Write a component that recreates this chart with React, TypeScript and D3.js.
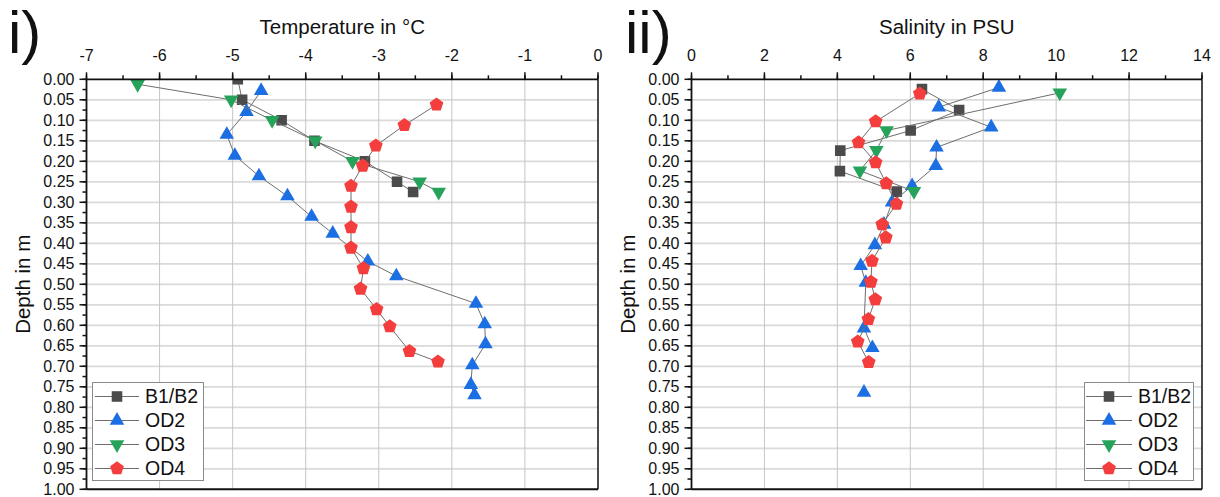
import React from "react";
import * as d3 from "d3";

// ---- data: [value, depth in m] pairs per station ----
const seriesNames = ["B1/B2", "OD2", "OD3", "OD4"];

const tempB1B2: [number, number][] = [
  [-4.93, 0.0], [-4.87, 0.05], [-4.33, 0.1], [-3.88, 0.15], [-3.19, 0.2], [-2.75, 0.25], [-2.53, 0.275],
];
const tempOD2: [number, number][] = [
  [-4.61, 0.028], [-4.81, 0.079], [-5.08, 0.135], [-4.97, 0.186], [-4.64, 0.236], [-4.25, 0.285],
  [-3.92, 0.335], [-3.63, 0.376], [-3.15, 0.444], [-2.76, 0.48], [-1.67, 0.547], [-1.55, 0.597],
  [-1.54, 0.646], [-1.72, 0.697], [-1.74, 0.745], [-1.69, 0.77],
];
const tempOD3: [number, number][] = [
  [-6.3, 0.012], [-5.02, 0.05], [-4.46, 0.1], [-3.87, 0.15], [-3.36, 0.2], [-2.44, 0.25], [-2.18, 0.275],
];
const tempOD4: [number, number][] = [
  [-2.21, 0.062], [-2.65, 0.112], [-3.04, 0.162], [-3.22, 0.211], [-3.38, 0.26], [-3.38, 0.311],
  [-3.38, 0.361], [-3.38, 0.411], [-3.21, 0.461], [-3.25, 0.511], [-3.03, 0.561], [-2.85, 0.603],
  [-2.58, 0.663], [-2.19, 0.689],
];

const salB1B2: [number, number][] = [
  [6.32, 0.024], [7.34, 0.075], [6.01, 0.125], [4.08, 0.174], [4.07, 0.224], [5.63, 0.274],
];
// null marks a gap in the profile (no samples between 0.66 m and 0.76 m)
const salOD2: ([number, number] | null)[] = [
  [8.43, 0.02], [6.78, 0.068], [8.22, 0.117], [6.72, 0.166], [6.7, 0.211], [6.05, 0.26], [5.5, 0.3],
  [5.28, 0.354], [5.03, 0.404], [4.64, 0.455], [4.78, 0.496], [4.73, 0.607], [4.96, 0.655], null,
  [4.73, 0.764],
];
const salOD3: [number, number][] = [
  [10.1, 0.033], [5.35, 0.125], [5.07, 0.173], [4.62, 0.223], [6.1, 0.273],
];
const salOD4: [number, number][] = [
  [6.26, 0.035], [5.05, 0.103], [4.58, 0.154], [5.05, 0.203], [5.34, 0.254], [5.62, 0.304],
  [5.23, 0.354], [5.33, 0.386], [4.95, 0.443], [4.92, 0.494], [5.04, 0.537], [4.85, 0.585],
  [4.56, 0.64], [4.86, 0.69],
];

const tempTicks = [-7, -6, -5, -4, -3, -2, -1, 0];
const salTicks = [0, 2, 4, 6, 8, 10, 12, 14];
const depthTicks = d3.range(0, 21).map((i) => i * 0.05);

// ---- styling ----
const FONT = "'Liberation Sans', Arial, Helvetica, sans-serif";
const colors = ["#4b4b4b", "#1c6fe3", "#26a35b", "#f43d3d"];
const LINE_COLOR = "#6e6e6e";
const TOP = 79.3;
const BOTTOM = 489.3;

type Pt = [number, number] | null;

function Marker({ kind, x, y, color }: { kind: number; x: number; y: number; color: string }) {
  let d = "";
  if (kind === 0) {
    d = d3.symbol(d3.symbolSquare, 112)() as string;
  } else if (kind === 1 || kind === 2) {
    d = d3.symbol(d3.symbolTriangle, 92)() as string;
  } else {
    const r = 7.2;
    const pts = d3.range(5).map((k) => {
      const a = ((-90 + k * 72) * Math.PI) / 180;
      return [r * Math.cos(a), r * Math.sin(a)];
    });
    d = "M" + pts.map((p) => p.join(",")).join("L") + "Z";
  }
  const rot = kind === 2 ? " rotate(180)" : "";
  return <path d={d} transform={`translate(${x},${y})${rot}`} fill={color} />;
}

interface PanelProps {
  id: string;
  x0: number;
  x1: number;
  domain: [number, number];
  ticks: number[];
  minorStep: number;
  title: string;
  tag: string;
  tagX: number;
  series: Pt[][];
  legendX: number;
  legendW: number;
  legendLine: [number, number];
}

function Panel(p: PanelProps) {
  const x = d3.scaleLinear().domain(p.domain).range([p.x0, p.x1]);
  const y = d3.scaleLinear().domain([0, 1]).range([TOP, BOTTOM]);
  const minorX = d3.range(p.domain[0], p.domain[1] + 1e-9, p.minorStep);
  const minorY = d3.range(0, 41).map((i) => i * 0.025);
  const line = d3
    .line<Pt>()
    .defined((d) => d !== null)
    .x((d) => x((d as [number, number])[0]))
    .y((d) => y((d as [number, number])[1]));
  const mid = (p.x0 + p.x1) / 2;
  const ys = [396.5, 420.5, 444.5, 468.5];

  return (
    <g>
      <defs>
        <clipPath id={`clip-${p.id}`}>
          <rect x={p.x0} y={TOP} width={p.x1 - p.x0} height={BOTTOM - TOP} />
        </clipPath>
      </defs>
      {/* grid */}
      {depthTicks.slice(1, -1).map((t) => (
        <line key={`h${t}`} x1={p.x0} x2={p.x1} y1={y(t)} y2={y(t)} stroke="#dadada" strokeWidth={1.8} />
      ))}
      {p.ticks.slice(1, -1).map((t) => (
        <line key={`v${t}`} x1={x(t)} x2={x(t)} y1={TOP} y2={BOTTOM} stroke="#c6c6c6" strokeWidth={1} />
      ))}
      {/* frame */}
      <line x1={p.x1} x2={p.x1} y1={TOP} y2={BOTTOM} stroke="#111" strokeWidth={1.5} />
      <line x1={p.x0} x2={p.x1} y1={BOTTOM} y2={BOTTOM} stroke="#111" strokeWidth={2} />
      {/* series */}
      <g clipPath={`url(#clip-${p.id})`}>
        {p.series.map((s, i) => (
          <g key={i}>
            <path d={line(s) as string} fill="none" stroke={LINE_COLOR} strokeWidth={1} />
            {s.filter((d) => d !== null).map((d, j) => (
              <Marker key={j} kind={i} x={x((d as [number, number])[0])} y={y((d as [number, number])[1])} color={colors[i]} />
            ))}
          </g>
        ))}
      </g>
      {/* top axis */}
      <line x1={p.x0} x2={p.x1} y1={TOP} y2={TOP} stroke="#111" strokeWidth={1.8} />
      {minorX.map((t) => (
        <line key={`mx${t}`} x1={x(t)} x2={x(t)} y1={TOP} y2={TOP - 4} stroke="#111" strokeWidth={1.5} />
      ))}
      {p.ticks.map((t) => (
        <g key={`tx${t}`}>
          <line x1={x(t)} x2={x(t)} y1={TOP} y2={TOP - 7} stroke="#111" strokeWidth={1.5} />
          <text x={x(t)} y={61} textAnchor="middle" fontSize={16} fontFamily={FONT} fill="#111">
            {t}
          </text>
        </g>
      ))}
      <text x={mid} y={34} textAnchor="middle" fontSize={20.5} fontFamily={FONT} fill="#111">
        {p.title}
      </text>
      {/* left axis */}
      <line x1={p.x0} x2={p.x0} y1={TOP} y2={BOTTOM} stroke="#111" strokeWidth={1.8} />
      {minorY.map((t) => (
        <line key={`my${t}`} x1={p.x0} x2={p.x0 - 4} y1={y(t)} y2={y(t)} stroke="#111" strokeWidth={1.5} />
      ))}
      {depthTicks.map((t) => (
        <g key={`ty${t}`}>
          <line x1={p.x0} x2={p.x0 - 7} y1={y(t)} y2={y(t)} stroke="#111" strokeWidth={1.5} />
          <text x={p.x0 - 12} y={y(t) + 5.6} textAnchor="end" fontSize={16} fontFamily={FONT} fill="#111">
            {t.toFixed(2)}
          </text>
        </g>
      ))}
      <text
        transform={`translate(${p.x0 - 57},${(TOP + BOTTOM) / 2}) rotate(-90)`}
        textAnchor="middle"
        fontSize={20.5}
        fontFamily={FONT}
        fill="#111"
      >
        Depth in m
      </text>
      {/* panel tag */}
      <text x={p.tagX} y={53} fontSize={60} fontFamily={FONT} fill="#111">
        {p.tag}
      </text>
      {/* legend */}
      <rect x={p.legendX} y={382.5} width={p.legendW} height={98} fill="#fff" stroke="#8a8a8a" strokeWidth={1} />
      {seriesNames.map((n, i) => (
        <g key={n}>
          <line x1={p.legendLine[0]} x2={p.legendLine[1]} y1={ys[i]} y2={ys[i]} stroke={LINE_COLOR} strokeWidth={1} />
          <Marker kind={i} x={(p.legendLine[0] + p.legendLine[1]) / 2} y={ys[i]} color={colors[i]} />
          <text x={p.legendLine[1] + 6} y={ys[i] + 6.8} fontSize={19.5} fontFamily={FONT} fill="#111">
            {n}
          </text>
        </g>
      ))}
    </g>
  );
}

export default function App() {
  return (
    <svg
      width={1220}
      height={497}
      style={{ position: "absolute", left: 0, top: 0, display: "block", background: "#fff" }}
    >
      <rect width={1220} height={497} fill="#fff" />
      <Panel
        id="temp"
        x0={86.5}
        x1={598}
        domain={[-7, 0]}
        ticks={tempTicks}
        minorStep={0.5}
        title="Temperature in °C"
        tag="i)"
        tagX={8}
        series={[tempB1B2, tempOD2, tempOD3, tempOD4]}
        legendX={92.5}
        legendW={111}
        legendLine={[95, 139]}
      />
      <Panel
        id="sal"
        x0={691.5}
        x1={1202}
        domain={[0, 14]}
        ticks={salTicks}
        minorStep={1}
        title="Salinity in PSU"
        tag="ii)"
        tagX={625}
        series={[salB1B2, salOD2, salOD3, salOD4]}
        legendX={1084.5}
        legendW={109}
        legendLine={[1086, 1132]}
      />
    </svg>
  );
}
